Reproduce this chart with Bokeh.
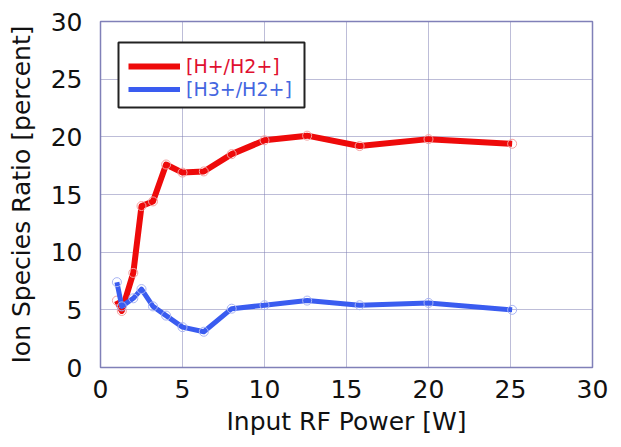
from bokeh.plotting import figure
from bokeh.models import Legend, LegendItem, BoxAnnotation, FixedTicker
from bokeh.embed import file_html
from bokeh.resources import INLINE

power = [1.0, 1.3, 2.0, 2.5, 3.2, 4.0, 5.0, 6.3, 8.0, 10.0, 12.6, 15.8, 20.0, 25.1]
h_ratio = [5.8, 4.9, 8.2, 14.0, 14.4, 17.6, 16.9, 17.0, 18.5, 19.7, 20.1, 19.2, 19.8, 19.4]
h3_ratio = [7.4, 5.3, 6.0, 6.8, 5.3, 4.5, 3.5, 3.1, 5.1, 5.4, 5.8, 5.4, 5.6, 5.0]
ticks = [0, 5, 10, 15, 20, 25, 30]

FONT = "DejaVu Sans"
RED = "#ee0a0a"
BLUE = "#3a5cf0"

p = figure(width=621, height=447, output_backend="svg", toolbar_location=None,
           x_range=(0, 30), y_range=(0, 30),
           min_border_left=100, min_border_right=29, min_border_top=21, min_border_bottom=80)
p.background_fill_color = "white"
p.border_fill_color = "white"
p.outline_line_color = "#8080b8"
p.outline_line_width = 1.5

for ax in (p.xaxis[0], p.yaxis[0]):
    ax.ticker = FixedTicker(ticks=ticks)
    ax.axis_line_color = None
    ax.major_tick_line_color = None
    ax.minor_tick_line_color = None
    ax.major_label_text_font = FONT
    ax.major_label_text_font_size = "25px"
    ax.major_label_text_color = "#111111"
    ax.axis_label_text_font = FONT
    ax.axis_label_text_font_size = "25px"
    ax.axis_label_text_font_style = "normal"
    ax.axis_label_text_color = "#111111"

p.xaxis.axis_label = "Input RF Power [W]"
p.yaxis.axis_label = "Ion Species Ratio [percent]"
p.xaxis.major_label_standoff = 6
p.yaxis.major_label_standoff = 12
p.xaxis.axis_label_standoff = 6
p.yaxis.axis_label_standoff = 12

for g in (p.xgrid[0], p.ygrid[0]):
    g.ticker = FixedTicker(ticks=ticks)
    g.grid_line_color = "#7a7ab0"
    g.grid_line_dash = "1 1"
    g.grid_line_width = 1

r1 = p.line(power, h_ratio, line_color=RED, line_width=6, line_join="round")
p.scatter(power, h_ratio, size=9, marker="circle", fill_color=None,
          line_color="#f4a0a0", line_width=1)
r2 = p.line(power, h3_ratio, line_color=BLUE, line_width=5, line_join="round")
p.scatter(power, h3_ratio, size=9, marker="circle", fill_color=None,
          line_color="#a8b4f4", line_width=1)

box = BoxAnnotation(left=18, right=204, top=325, bottom=260,
                    left_units="screen", right_units="screen",
                    top_units="screen", bottom_units="screen",
                    fill_color="white", fill_alpha=1.0,
                    line_color="#222222", line_alpha=1.0, line_width=2)
p.add_layout(box)

def mk_legend(label, renderer, color, loc):
    lg = Legend(items=[LegendItem(label=label, renderers=[renderer])],
                location=loc, border_line_color=None, background_fill_alpha=0,
                label_text_font=FONT, label_text_font_size="19px",
                label_text_color=color, glyph_width=52, glyph_height=20,
                label_height=20, padding=0, margin=0, spacing=0, label_standoff=6)
    return lg

p.add_layout(mk_legend("[H+/H2+]", r1, "#e01030", (28, 290)))
p.add_layout(mk_legend("[H3+/H2+]", r2, "#4466e0", (28, 267)))

open("out.html", "w").write(file_html(p, INLINE))
